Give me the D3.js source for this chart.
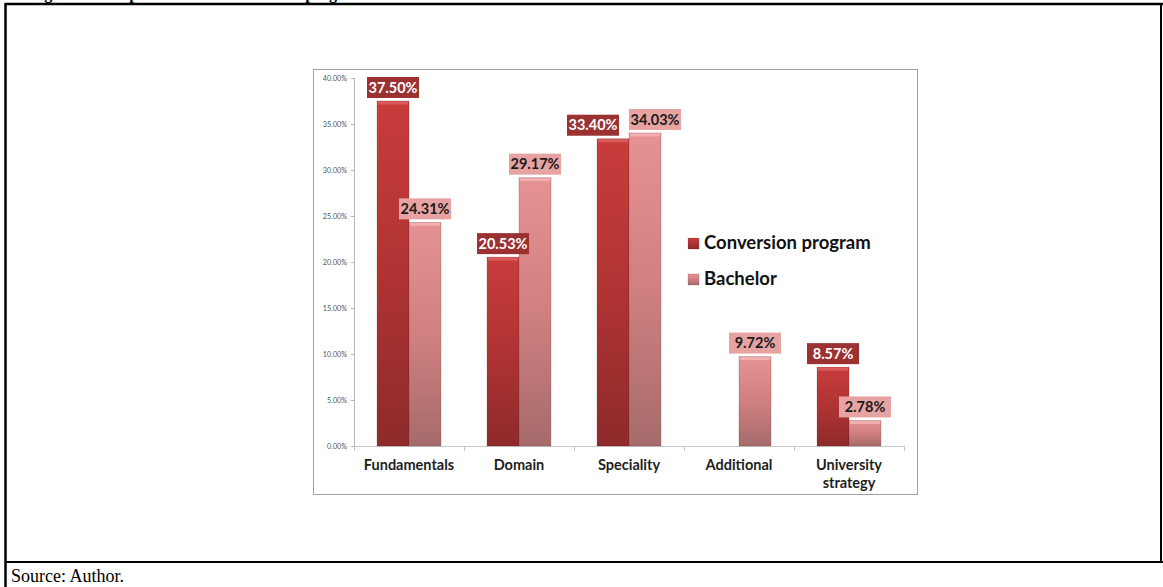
<!DOCTYPE html>
<html>
<head>
<meta charset="utf-8">
<script src="https://cdn.jsdelivr.net/npm/d3@7"></script>
<style>
  html, body { margin: 0; padding: 0; background: #fff; }
  svg { display: block; }
</style>
</head>
<body>
<svg id="chart" width="1163" height="587"></svg>
<script>
// Share of the curriculum by module group
const categories = ["Fundamentals", "Domain", "Speciality", "Additional", "University strategy"];
const seriesNames = ["Conversion program", "Bachelor"];
const conversionValues = [37.50, 20.53, 33.40, null, 8.57];
const bachelorValues = [24.31, 29.17, 34.03, 9.72, 2.78];
const yTickValues = [0, 5, 10, 15, 20, 25, 30, 35, 40];

const svg = d3.select("#chart");

// page frame around the figure
svg.append("text")
  .attr("x", 30).attr("y", -1.5)
  .attr("font-family", "Liberation Serif, Times New Roman, serif")
  .attr("font-weight", "bold").attr("font-size", 16)
  .text("Figure 3: Comparison of the conversion program and the bachelor curricula");
svg.append("line").attr("x1", 5).attr("x2", 1163).attr("y1", 4).attr("y2", 4)
  .attr("stroke", "#000").attr("stroke-width", 2.5);
svg.append("line").attr("x1", 5.5).attr("x2", 5.5).attr("y1", 3).attr("y2", 587)
  .attr("stroke", "#000").attr("stroke-width", 2.5);
svg.append("line").attr("x1", 1161).attr("x2", 1161).attr("y1", 3).attr("y2", 563)
  .attr("stroke", "#000").attr("stroke-width", 2);
svg.append("line").attr("x1", 5).attr("x2", 1163).attr("y1", 562).attr("y2", 562)
  .attr("stroke", "#000").attr("stroke-width", 2);
svg.append("text")
  .attr("x", 11).attr("y", 582)
  .attr("font-family", "Liberation Serif, Times New Roman, serif")
  .attr("font-size", 18)
  .text("Source: Author.");

// chart area box
svg.append("rect")
  .attr("x", 313.5).attr("y", 69.5).attr("width", 604).attr("height", 425)
  .attr("fill", "#fff").attr("stroke", "#a0a0a0").attr("stroke-width", 1);

const defs = svg.append("defs");
function vGrad(id, stops) {
  const g = defs.append("linearGradient").attr("id", id)
    .attr("x1", 0).attr("y1", 0).attr("x2", 0).attr("y2", 1);
  stops.forEach(s => g.append("stop").attr("offset", s[0]).attr("stop-color", s[1]));
}
vGrad("gConv", [[0, "#c93c3c"], [0.5, "#b03333"], [1, "#8e2a2a"]]);
vGrad("gBach", [[0, "#e69292"], [0.5, "#d08080"], [1, "#a66b6b"]]);

const plotLeft = 354, plotRight = 904, plotTop = 78, plotBottom = 446;

const x = d3.scaleBand().domain(categories).range([plotLeft, plotRight]).paddingInner(0).paddingOuter(0);
const xs = d3.scaleBand().domain(seriesNames).range([0, x.bandwidth()]).paddingInner(0).paddingOuter(0.72);
const y = d3.scaleLinear().domain([0, 40]).range([plotBottom, plotTop]);

const font = "Lato, Open Sans, sans-serif";

// y axis
const yAxis = svg.append("g").attr("transform", `translate(${plotLeft},0)`)
  .call(d3.axisLeft(y).tickValues(yTickValues).tickSize(3).tickPadding(4)
    .tickFormat(d => d.toFixed(2) + "%"));
yAxis.select(".domain").attr("stroke", "#b5b5b5");
yAxis.selectAll(".tick line").attr("stroke", "#b5b5b5");
yAxis.selectAll(".tick text").attr("font-family", font).attr("font-size", 7.2).attr("fill", "#555");

// x axis line and category separators
svg.append("line").attr("x1", plotLeft).attr("x2", plotRight)
  .attr("y1", plotBottom + 0.5).attr("y2", plotBottom + 0.5).attr("stroke", "#c8c8c8");
const bounds = categories.map(c => x(c)).concat([x(categories[categories.length - 1]) + x.bandwidth()]);
svg.selectAll("line.sep").data(bounds).enter().append("line")
  .attr("x1", d => d + 0.5).attr("x2", d => d + 0.5)
  .attr("y1", plotBottom).attr("y2", plotBottom + 5).attr("stroke", "#c8c8c8");

// category labels (wrapped on spaces when too wide)
categories.forEach(c => {
  const words = c.split(" ");
  const lines = words.length > 1 && c.length > 14 ? words : [c];
  const t = svg.append("text")
    .attr("x", x(c) + x.bandwidth() / 2).attr("y", 470)
    .attr("text-anchor", "middle").attr("font-family", font)
    .attr("font-weight", "bold").attr("font-size", 14.5).attr("fill", "#1e1e1e");
  lines.forEach((l, i) => t.append("tspan")
    .attr("x", x(c) + x.bandwidth() / 2).attr("dy", i === 0 ? 0 : 18).text(l));
});

// bars
const series = [
  { name: seriesNames[0], values: conversionValues, fill: "url(#gConv)", hi: "#d95c5c",
    labelFill: "#9c3131", labelText: "#ffffff" },
  { name: seriesNames[1], values: bachelorValues, fill: "url(#gBach)", hi: "#f0b0b0",
    labelFill: "#e7a2a2", labelText: "#1a1a1a" }
];

const boxW = 52, boxH = 21, boxGap = 3;

// label anchor positions, nudged apart sideways where two boxes would collide
const labelPos = series.map(s => categories.map((c, i) => s.values[i] == null ? null : {
  cx: x(c) + xs(s.name) + xs.bandwidth() / 2,
  cy: y(s.values[i]) - boxGap - boxH / 2
}));
categories.forEach((c, i) => {
  const a = labelPos[0][i], b = labelPos[1][i];
  if (a && b && Math.abs(a.cy - b.cy) < boxH && b.cx - a.cx < boxW + 10) {
    const need = boxW + 10 - (b.cx - a.cx);
    a.cx -= need * 2 / 3;
    b.cx += need / 3;
  }
});

series.forEach((s, si) => {
  const pts = categories.map((c, i) => ({ c, i, v: s.values[i] })).filter(d => d.v != null);
  const g = svg.append("g");
  g.selectAll("rect.bar").data(pts).enter().append("rect")
    .attr("x", d => x(d.c) + xs(s.name))
    .attr("y", d => y(d.v))
    .attr("width", xs.bandwidth())
    .attr("height", d => y(0) - y(d.v))
    .attr("fill", s.fill)
    .attr("stroke", "rgba(90,30,30,0.25)").attr("stroke-width", 0.8);
  // bevel highlight along the top edge
  g.selectAll("rect.hi").data(pts).enter().append("rect")
    .attr("x", d => x(d.c) + xs(s.name) + 1)
    .attr("y", d => y(d.v) + 0.5)
    .attr("width", xs.bandwidth() - 2)
    .attr("height", d => Math.min(3, y(0) - y(d.v)))
    .attr("fill", s.hi);
});

// value labels drawn above all bars
series.forEach((s, si) => {
  const pts = categories.map((c, i) => ({ c, i, v: s.values[i] })).filter(d => d.v != null);
  const lab = svg.append("g").selectAll("g.lab").data(pts).enter().append("g")
    .attr("transform", d => `translate(${labelPos[si][d.i].cx},${labelPos[si][d.i].cy})`);
  lab.append("rect")
    .attr("x", -boxW / 2).attr("y", -boxH / 2).attr("width", boxW).attr("height", boxH)
    .attr("fill", s.labelFill);
  lab.append("text")
    .attr("text-anchor", "middle").attr("dy", "0.36em")
    .attr("font-family", font).attr("font-weight", "bold").attr("font-size", 14.5)
    .attr("fill", s.labelText)
    .text(d => d.v.toFixed(2) + "%");
});

// legend
const legend = svg.append("g").attr("transform", "translate(688,238)");
series.forEach((s, i) => {
  const row = legend.append("g").attr("transform", `translate(0,${i * 36})`);
  row.append("rect").attr("width", 11).attr("height", 11).attr("fill", s.fill)
    .attr("stroke", "rgba(90,30,30,0.3)").attr("stroke-width", 0.6);
  row.append("text").attr("x", 16).attr("y", 10.5)
    .attr("font-family", font).attr("font-weight", "bold").attr("font-size", 18.5)
    .attr("fill", "#111").text(s.name);
});
</script>
</body>
</html>
